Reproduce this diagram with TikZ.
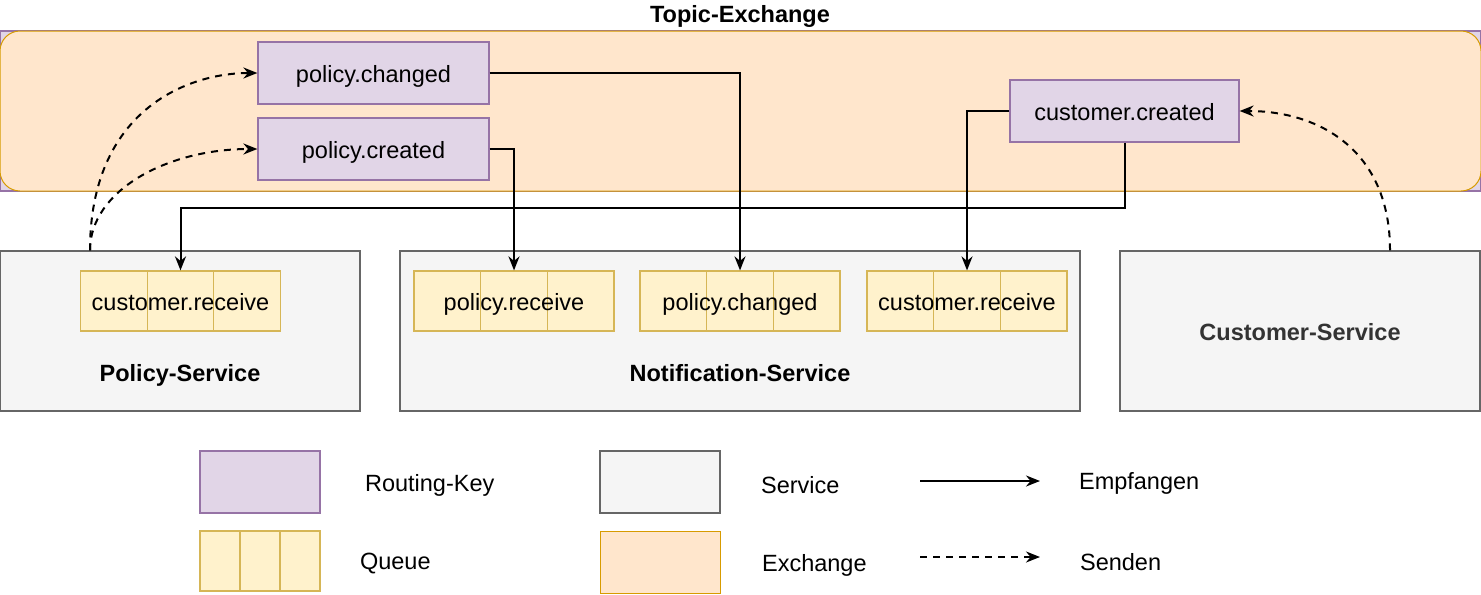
\documentclass[tikz,border=0pt]{standalone}
\usepackage{fontspec}
\setmainfont{Liberation Sans}
\usetikzlibrary{arrows.meta,positioning,calc}
\definecolor{keyfill}{HTML}{E1D5E7}
\definecolor{keyline}{HTML}{9673A6}
\definecolor{exfill}{HTML}{FFE6CC}
\definecolor{exline}{HTML}{D79B00}
\definecolor{srvfill}{HTML}{F5F5F5}
\definecolor{srvline}{HTML}{666666}
\definecolor{srvtext}{HTML}{333333}
\definecolor{qfill}{HTML}{FFF2CC}
\definecolor{qline}{HTML}{D6B656}
\tikzset{
txt/.style={text height=10.9pt,text depth=1.5pt},
key/.style={draw=keyline,fill=keyfill,line width=0.6pt,minimum width=115.5pt,minimum height=31pt,inner sep=0pt,txt},
service/.style={draw=srvline,fill=srvfill,line width=0.6pt,minimum width=180pt,minimum height=80pt,inner sep=0pt},
queue/.style={draw=qline,fill=qfill,line width=0.6pt,minimum width=100pt,minimum height=30pt,inner sep=0pt,txt,
  path picture={\draw[qline,line width=0.6pt]
    ($(path picture bounding box.north west)!1/3!(path picture bounding box.north east)$) --
    ($(path picture bounding box.south west)!1/3!(path picture bounding box.south east)$)
    ($(path picture bounding box.north west)!2/3!(path picture bounding box.north east)$) --
    ($(path picture bounding box.south west)!2/3!(path picture bounding box.south east)$);}},
recv/.style={line width=1pt,-{Stealth[length=7pt,width=5.5pt]}},
send/.style={recv,dash pattern=on 3.5pt off 3pt},
}
\begin{document}
\begin{tikzpicture}[x=0.5pt,y=-0.5pt,font=\fontsize{11.75}{14}\selectfont]
\useasboundingbox (0,0) rectangle (1481,594);
% exchange
\draw[keyline,fill=keyfill,line width=0.6pt](0,31) rectangle (1481,191);
\node[draw=exline,fill=exfill,line width=0.5pt,rounded corners=10pt,minimum width=740.5pt,minimum height=80pt](exchange) at (740.5,111){};
\node(title) at (740,16){\textbf{Topic-Exchange}};
\node[key](changed) at (373.5,73){policy.changed};
\node[key](created) at (373.5,149){policy.created};
\node[key,minimum width=114.5pt](custcreated) at (1124.5,111){customer.created};
% services
\node[service](policy) at (180,331){};
\node[service,minimum width=340pt](notify) at (740,331){};
\node[service,text=srvtext,font=\fontsize{11.75}{14}\selectfont\bfseries,txt](customer) at (1300,331){Customer-Service};
\node[font=\fontsize{11.75}{14}\selectfont\bfseries,txt](policylbl) at (180,372){Policy-Service};
\node[font=\fontsize{11.75}{14}\selectfont\bfseries,txt](notifylbl) at (740,372){Notification-Service};
% queues
\node[queue](pcustq) at (180.5,301){customer.receive};
\node[queue](nrecq) at (514,301){policy.receive};
\node[queue](nchq) at (740,301){policy.changed};
\node[queue](ncustq) at (967,301){customer.receive};
% empfangen
\draw[recv](changed.east) -| (nchq.north);
\draw[recv](created.east) -| (nrecq.north);
\draw[recv](custcreated.west) -| (ncustq.north);
\draw[recv](custcreated.south) -- ++(0,65) -| (pcustq.north);
% senden
\draw[send]([xshift=-45pt]policy.north) .. controls +(0,-140) and +(-70,0) .. (changed.west);
\draw[send]([xshift=-45pt]policy.north) .. controls +(0,-60) and +(-90,0) .. (created.west);
\draw[send]([xshift=45pt]customer.north) .. controls +(0,-100) and +(80,0) .. (custcreated.east);
% legend
\node[key,minimum width=60pt](lgkey) at (260,482){};
\node[queue,minimum width=60pt](lgqueue) at (260,561){};
\node[service,minimum width=60pt,minimum height=31pt](lgservice) at (660,482){};
\node[draw=exline,fill=exfill,line width=0.5pt,minimum width=60pt,minimum height=31pt](lgexchange) at (660,562){};
\node[anchor=west](lgkeytxt) at (358,485){Routing-Key};
\node[anchor=west](lgqueuetxt) at (353,564){Queue};
\node[anchor=west](lgservicetxt) at (754,485){Service};
\node[anchor=west](lgexchangetxt) at (755,565){Exchange};
\coordinate(r0) at (920,481);
\coordinate(r1) at (1040,481);
\coordinate(s0) at (920,557);
\coordinate(s1) at (1040,557);
\draw[recv](r0) -- (r1);
\draw[send](s0) -- (s1);
\node[anchor=west](recvtxt) at (1072,483){Empfangen};
\node[anchor=west](sendtxt) at (1073,562){Senden};
\end{tikzpicture}
\end{document}
